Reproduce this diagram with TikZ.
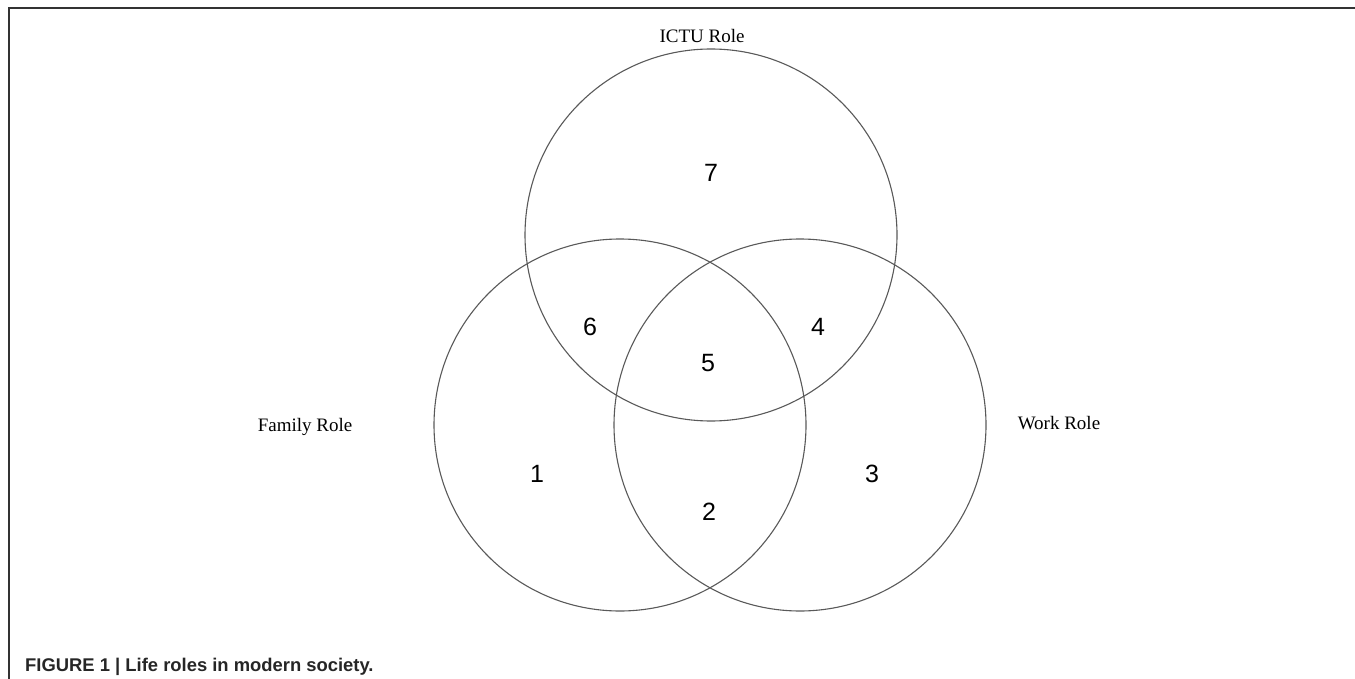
\documentclass[tikz,border=0pt]{standalone}
\usepackage{fontspec}
\setmainfont{Liberation Serif}
\newfontfamily\numfont{Liberation Sans}
\tikzset{
  role/.style={draw=black!65, line width=1.1pt},
  rolelabel/.style={font=\fontsize{19}{22}\selectfont, inner sep=0pt},
  regionnum/.style={font=\numfont\fontsize{25}{28}\selectfont, inner sep=0pt},
  framelin/.style={draw=black!80, line width=2pt},
}
\begin{document}
\begin{tikzpicture}[x=1pt,y=-1pt]
\useasboundingbox (0,0) rectangle (1355,679);
% frame
\coordinate (ftr) at (1355,8.5);
\coordinate (ftl) at (8.5,8.5);
\coordinate (fbl) at (8.5,679);
\draw[framelin] (ftr) -- (ftl) -- (fbl);
% circles
\node[role, circle, minimum size=372pt, inner sep=0pt] (ictu) at (711,235) {};
\node[role, circle, minimum size=372pt, inner sep=0pt] (family) at (620,425) {};
\node[role, circle, minimum size=372pt, inner sep=0pt] (work) at (800,425) {};
% labels
\node[rolelabel] (lictu) at (702,36) {ICTU Role};
\node[rolelabel] (lfam) at (305,427) {Family Role};
\node[rolelabel] (lwork) at (1059,423) {Work Role};
% region numbers
\node[regionnum] (n7) at (711,173) {7};
\node[regionnum] (n6) at (590,327) {6};
\node[regionnum] (n4) at (818,327) {4};
\node[regionnum] (n5) at (708,363) {5};
\node[regionnum] (n1) at (537,474) {1};
\node[regionnum] (n3) at (872,474) {3};
\node[regionnum] (n2) at (709,512) {2};
% caption
\node[anchor=west, inner sep=0pt, font=\numfont\bfseries\fontsize{18.4}{21}\selectfont, text=black!85] (cap) at (25,667) {FIGURE 1 | Life roles in modern society.};
\end{tikzpicture}
\end{document}
